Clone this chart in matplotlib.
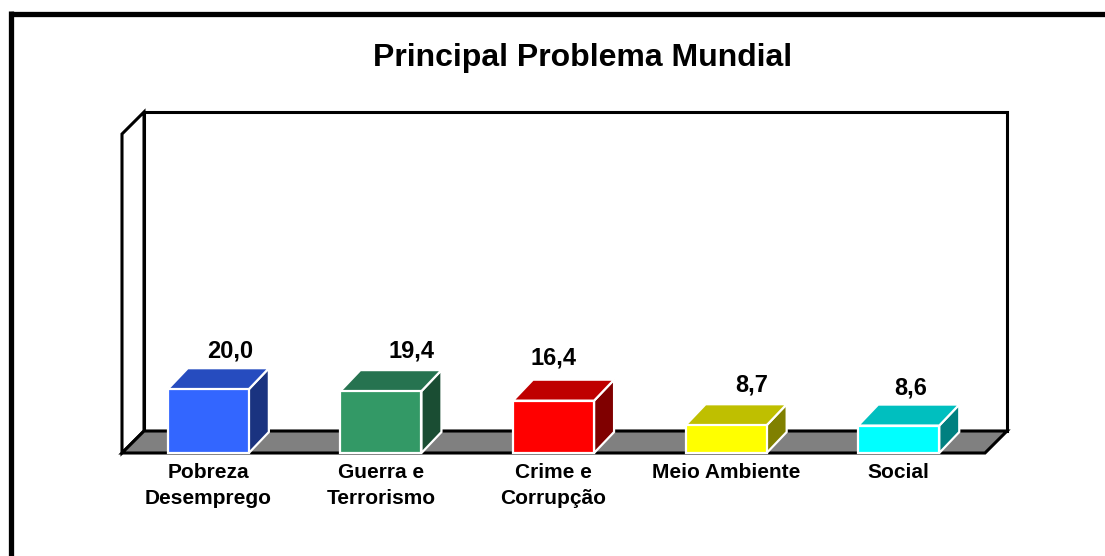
import matplotlib
matplotlib.use("Agg")
import matplotlib.pyplot as plt
from matplotlib.patches import Polygon
from matplotlib.lines import Line2D

# ---- data ----
categories = ["Pobreza\nDesemprego", "Guerra e\nTerrorismo", "Crime e\nCorrupção",
              "Meio Ambiente", "Social"]
values = [20.0, 19.4, 16.4, 8.7, 8.6]
value_labels = ["20,0", "19,4", "16,4", "8,7", "8,6"]
title = "Principal Problema Mundial"

front_colors = ["#3366FF", "#339966", "#FF0000", "#FFFF00", "#00FFFF"]
top_colors = ["#264CBF", "#267350", "#BF0000", "#BFBF00", "#00BFBF"]
side_colors = ["#1A3380", "#1A4D33", "#800000", "#808000", "#008080"]

# label nudges (pixels) as placed in the original chart
label_dx_px = [22, 31, 0, 26, 12]
label_dy_px = [17, 19, 22, 19, 17]

W, H = 1105, 556
fig = plt.figure(figsize=(W / 100, H / 100), dpi=100)
fig.patch.set_facecolor("white")
FONT = "Liberation Sans"

# plot area (front face of the 3D box)
x_left, x_right, y_bot, y_top = 122, 985, 453, 134
ax = fig.add_axes([x_left / W, 1 - y_bot / H, (x_right - x_left) / W, (y_bot - y_top) / H])
ax.set_xlim(-0.5, len(values) - 0.5)
ax.set_ylim(0, 100)
ax.axis("off")

px_x = (len(values)) / (x_right - x_left)  # data units per pixel in x
px_y = 100 / (y_bot - y_top)                 # data units per pixel in y

# wall/floor depth
ddx, ddy = 22 * px_x, 22 * px_y
x0, x1 = -0.5, len(values) - 0.5

def poly(pts, fc, ec, lw, z):
    p = Polygon(pts, closed=True, facecolor=fc, edgecolor=ec, linewidth=lw,
                joinstyle="miter", clip_on=False, zorder=z)
    ax.add_patch(p)

# back wall
poly([(x0 + ddx, ddy), (x1 + ddx, ddy), (x1 + ddx, 100 + ddy), (x0 + ddx, 100 + ddy)],
     "white", "black", 2.2, 1)
# left side wall
poly([(x0, 0), (x0, 100), (x0 + ddx, 100 + ddy), (x0 + ddx, ddy)], "white", "black", 2.2, 2)
# floor
poly([(x0, 0), (x1, 0), (x1 + ddx, ddy), (x0 + ddx, ddy)], "#808080", "black", 2.2, 3)

# bars
bw = 0.47
bdx, bdy = 20 * px_x, 21 * px_y
for i, v in enumerate(values):
    l, r = i - bw / 2, i + bw / 2
    poly([(r, 0), (r + bdx, bdy), (r + bdx, v + bdy), (r, v)], side_colors[i], "white", 1.6, 5)
    poly([(l, v), (r, v), (r + bdx, v + bdy), (l + bdx, v + bdy)], top_colors[i], "white", 1.6, 5)
    poly([(l, 0), (r, 0), (r, v), (l, v)], front_colors[i], "white", 1.6, 6)
    ax.text(i + label_dx_px[i] * px_x, v + bdy + label_dy_px[i] * px_y, value_labels[i],
            ha="center", va="center", fontsize=17, fontweight="bold",
            fontfamily=FONT, color="black", clip_on=False, zorder=7)
    ax.text(i, -10 * px_y, categories[i], ha="center", va="top", fontsize=15,
            fontweight="bold", fontfamily=FONT, color="black", linespacing=1.45,
            clip_on=False, zorder=7)

# title
fig.text(583 / W, 1 - 58 / H, title, ha="center", va="center", fontsize=23,
         fontweight="bold", fontfamily=FONT, color="black")

# outer frame (top and left visible)
fig.add_artist(Line2D([10.5 / W, 1.0], [1 - 13.5 / H, 1 - 13.5 / H], color="black",
                      linewidth=3.8, solid_capstyle="butt", transform=fig.transFigure))
fig.add_artist(Line2D([10.5 / W, 10.5 / W], [1 - 11 / H, 0.0], color="black",
                      linewidth=3.8, solid_capstyle="butt", transform=fig.transFigure))

fig.savefig("out.png", dpi=100, facecolor="white")
